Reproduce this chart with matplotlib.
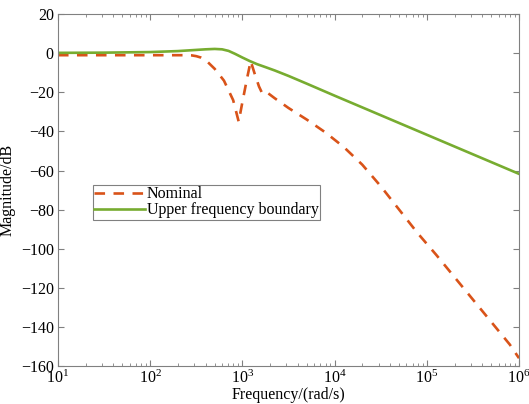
import numpy as np
import matplotlib.pyplot as plt

plt.rcParams['font.family'] = ['Liberation Serif', 'DejaVu Serif']
plt.rcParams['mathtext.fontset'] = 'stix'

# log10 of frequency and magnitude in dB
nominal_logw = [1.0, 2.0, 2.4, 2.45, 2.5, 2.55, 2.6, 2.7, 2.8, 2.9, 2.96,
                3.0, 3.05, 3.09, 3.13, 3.18, 3.22, 3.28, 3.35, 3.5, 3.7, 3.9,
                4.1, 4.3, 4.5, 4.7, 4.9, 5.1, 5.3, 5.5, 5.7, 5.9, 6.0]
nominal_db = [-1.0, -1.0, -1.0, -1.1, -1.5, -2.2, -3.4, -8.0, -14.0, -24.0,
              -35.0, -25.0, -13.0, -4.0, -10.0, -17.0, -21.0, -20.5, -23.0,
              -28.0, -34.0, -40.5, -48.0, -57.0, -68.0, -80.0, -92.0, -103.0,
              -114.5, -126.0, -137.5, -149.0, -156.0]

upper_logw = [1.0, 1.5, 2.0, 2.3, 2.5, 2.6, 2.7, 2.78, 2.85, 2.92, 3.0,
              3.08, 3.16, 3.25, 3.35, 3.5, 3.7, 4.0, 4.5, 5.0, 5.5, 6.0]
upper_db = [0.2, 0.3, 0.6, 1.1, 1.7, 2.0, 2.2, 2.0, 1.2, -0.3, -2.2,
            -4.0, -5.6, -7.1, -8.8, -11.6, -15.6, -21.7, -31.7, -41.7,
            -51.7, -61.7]

fig = plt.figure(figsize=(5.29, 4.04), dpi=100)
ax = fig.add_axes([0.1096, 0.094, 0.8715, 0.871])

ax.semilogx(10 ** np.array(nominal_logw), nominal_db, color='#D95319',
            lw=1.9, dashes=(4, 3.2), label='Nominal')
ax.semilogx(10 ** np.array(upper_logw), upper_db, color='#77AC30',
            lw=1.9, label='Upper frequency boundary')

ax.set_xlim(10, 1e6)
ax.set_ylim(-160, 20)
ax.set_yticks(np.arange(-160, 21, 20))
ax.set_yticklabels(['\u2212%d' % -v if v < 0 else '%d' % v for v in range(-160, 21, 20)])

for s in ax.spines.values():
    s.set_color('#808080')
ax.tick_params(which='both', direction='in', top=True, right=True,
               color='#808080', labelsize=11.5, pad=3)
ax.tick_params(which='major', length=4)
ax.tick_params(which='minor', length=2)
ax.tick_params(axis='y', which='minor', left=False, right=False)

ax.set_xlabel('Frequency/(rad/s)', fontsize=11.5, labelpad=0)
ax.set_ylabel('Magnitude/dB', fontsize=11.5, labelpad=4)

leg = ax.legend(loc='lower left', bbox_to_anchor=(0.075, 0.415),
                fontsize=11.5, fancybox=False, edgecolor='#808080',
                framealpha=1, borderpad=0.1, handlelength=3.2,
                handletextpad=0.1, labelspacing=0.0, borderaxespad=0)
leg.get_frame().set_linewidth(0.8)

fig.savefig('out.png', dpi=100)
